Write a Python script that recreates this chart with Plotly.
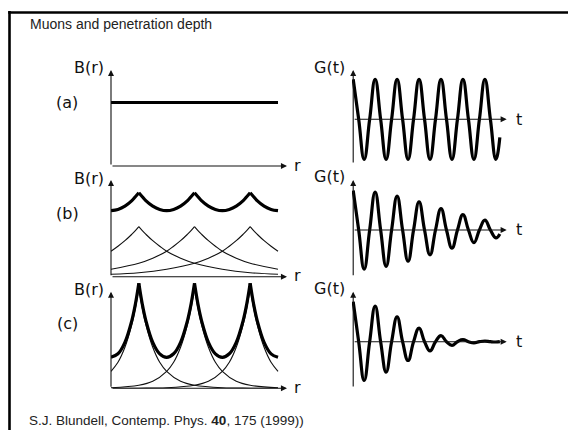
import plotly.graph_objects as go

W, H = 568, 430

# ---------------- data ----------------
# Vortex positions along r (units of vortex spacing) and extent of the drawn field profile
vortex_r = [0.5, 1.5, 2.5]
r_extent = [0.0, 3.0]
vortex_spacing = 1.0

# (a) uniform field level (units of single-vortex peak field in panel b)
field_a = 1.27

# single-vortex field profile vs distance from the core (fraction of spacing)
profile_d = [0, 0.0625, 0.125, 0.25, 0.375, 0.5, 0.75, 1.0, 1.5, 2.0, 2.5]
profile_b = [1.0, 0.92, 0.85, 0.72, 0.61, 0.51, 0.37, 0.27, 0.15, 0.08, 0.05]
profile_c = [1.0, 0.80, 0.64, 0.41, 0.26, 0.17, 0.07, 0.03, 0.005, 0.001, 0.0]

# total field between two neighbouring cores (fraction u of spacing from a core)
total_u = [0, 0.0625, 0.125, 0.25, 0.375, 0.5, 0.625, 0.75, 0.875, 0.9375, 1.0]
total_b = [1.68, 1.60, 1.52, 1.41, 1.345, 1.32, 1.345, 1.41, 1.52, 1.60, 1.68]
total_c = [1.05, 0.84, 0.68, 0.46, 0.345, 0.31, 0.345, 0.46, 0.68, 0.84, 1.05]

# G(t): amplitude of successive extrema (every half period, t in periods)
g_a_amp = [1.0, 1.0, 1.0, 1.0, 1.0, 1.0, 1.0, 1.0, 1.0, 1.0, 1.0, 1.0, 1.0, 1.0]
g_b_amp = [1.0, 0.99, 0.96, 0.92, 0.86, 0.79, 0.71, 0.63, 0.54, 0.46, 0.39, 0.32, 0.25, 0.20]
g_c_amp = [1.0, 0.97, 0.89, 0.76, 0.62, 0.47, 0.34, 0.23, 0.15, 0.09, 0.05, 0.03, 0.015, 0.008]
g_t_end = 6.68
g_a_end = -0.45
g_b_end = -0.10
g_c_end = 0.0

# ---------------- helpers ----------------
def px_x(p):
    return p / W

def px_y(p):
    return 1 - p / H


def thin_curves(profile):
    xs, ys = [], []
    lo, hi = r_extent
    for rc in vortex_r:
        left = [(rc - d, v) for d, v in zip(profile_d, profile) if rc - d >= lo - 1e-9]
        left.sort()
        right = [(rc + d, v) for d, v in zip(profile_d, profile) if rc + d <= hi + 1e-9]
        for seg in (left, right):
            xs += [p[0] for p in seg] + [None]
            ys += [p[1] for p in seg] + [None]
    return xs, ys


def total_curve(total):
    xs, ys = [], []
    lo, hi = r_extent
    starts = [vortex_r[0] - vortex_spacing] + list(vortex_r)
    for s in starts:
        seg = [(s + u * vortex_spacing, v) for u, v in zip(total_u, total)
               if lo - 1e-9 <= s + u * vortex_spacing <= hi + 1e-9]
        if len(seg) > 1:
            xs += [p[0] for p in seg] + [None]
            ys += [p[1] for p in seg] + [None]
    return xs, ys


def g_curve(amps, end_val):
    ts, gs = [], []
    for k, a in enumerate(amps):
        t = 0.5 * k
        if t > g_t_end:
            break
        ts.append(t)
        gs.append(a if k % 2 == 0 else -a)
        if t + 0.25 < g_t_end:
            ts.append(t + 0.25)
            gs.append(0.0)
    ts.append(g_t_end)
    gs.append(end_val)
    return ts, gs


# ---------------- layout geometry (pixels) ----------------
B_X0, B_X1 = 111, 290          # left domain for B(r) panels
R_PX = 55.67                   # px per vortex spacing
G_X0, G_X1 = 352, 512
T0_PX, T_PX = 353.2, 21.95     # t=0 position, px per period

# (domain top, domain bottom, zero line px, px per unit, axis top px)
B_rows = [(68, 166, 166, 50, 70), (178, 276.7, 276.7, 50, 180), (275, 388.3, 388.3, 100, 291.7)]
G_rows = [(68, 166, 119.3, 40, 70, 164), (178, 278, 230, 39.5, 180, 276.7), (288, 390, 341.7, 40, 291.7, 388)]

fig = go.Figure()
thick = dict(color="#000000", width=3.2, shape="spline", smoothing=1)
thin = dict(color="#111111", width=1.1, shape="spline", smoothing=1)

# Panel B(a)
fig.add_trace(go.Scatter(x=r_extent, y=[field_a, field_a], mode="lines",
                         line=dict(color="#000000", width=3.2), xaxis="x", yaxis="y",
                         cliponaxis=False))
# Panel B(b)
x, y = thin_curves(profile_b)
fig.add_trace(go.Scatter(x=x, y=y, mode="lines", line=thin, xaxis="x2", yaxis="y2", cliponaxis=False))
x, y = total_curve(total_b)
fig.add_trace(go.Scatter(x=x, y=y, mode="lines", line=thick, xaxis="x2", yaxis="y2", cliponaxis=False))
# Panel B(c)
x, y = thin_curves(profile_c)
fig.add_trace(go.Scatter(x=x, y=y, mode="lines", line=thin, xaxis="x3", yaxis="y3", cliponaxis=False))
x, y = total_curve(total_c)
fig.add_trace(go.Scatter(x=x, y=y, mode="lines", line=thick, xaxis="x3", yaxis="y3", cliponaxis=False))

# G panels
for i, (amps, endv) in enumerate([(g_a_amp, g_a_end), (g_b_amp, g_b_end), (g_c_amp, g_c_end)]):
    t, g = g_curve(amps, endv)
    fig.add_trace(go.Scatter(x=t, y=g, mode="lines",
                             line=dict(color="#000000", width=3.2, shape="spline", smoothing=1.3),
                             xaxis=f"x{4+i}", yaxis=f"y{4+i}", cliponaxis=False))

layout = dict(width=W, height=H, margin=dict(l=0, r=0, t=0, b=0),
              paper_bgcolor="white", plot_bgcolor="rgba(0,0,0,0)", showlegend=False,
              hovermode=False)

hidden = dict(visible=False, fixedrange=True)
annotations = []
lbl_font = dict(family="DejaVu Sans", size=16, color="#111111")

def axname(i):
    return "" if i == 1 else str(i)

for i, (dt, db, zero, ppu, atop) in enumerate(B_rows):
    n = i + 1
    layout[f"xaxis{axname(n)}"] = dict(hidden, domain=[px_x(B_X0), px_x(B_X1)],
                                       range=[0, (B_X1 - B_X0) / R_PX], anchor=f"y{axname(n)}")
    layout[f"yaxis{axname(n)}"] = dict(hidden, domain=[px_y(db), px_y(dt)],
                                       range=[-(db - zero) / ppu, (zero - dt) / ppu], anchor=f"x{axname(n)}")
    xr, yr = f"x{axname(n)}", f"y{axname(n)}"
    annotations.append(dict(x=0, y=(zero - atop) / ppu, ax=0, ay=0, xref=xr, yref=yr, axref=xr, ayref=yr,
                            text="", showarrow=True, arrowhead=2, arrowsize=1.1, arrowwidth=1.1, arrowcolor="#111111"))
    annotations.append(dict(x=(287 - B_X0) / R_PX, y=0, ax=0, ay=0, xref=xr, yref=yr, axref=xr, ayref=yr,
                            text="", showarrow=True, arrowhead=2, arrowsize=1.1, arrowwidth=1.1, arrowcolor="#111111"))
    annotations.append(dict(x=px_x(106), y=px_y(atop - 2), xref="paper", yref="paper", text="B(r)",
                            xanchor="right", yanchor="middle", showarrow=False, font=lbl_font))
    annotations.append(dict(x=px_x(292), y=px_y(zero - 1), xref="paper", yref="paper", text="r",
                            xanchor="left", yanchor="middle", showarrow=False, font=lbl_font))

panel_labels = ["(a)", "(b)", "(c)"]
for lab, py in zip(panel_labels, [102, 213, 323]):
    annotations.append(dict(x=px_x(67), y=px_y(py), xref="paper", yref="paper", text=lab,
                            xanchor="center", yanchor="middle", showarrow=False, font=lbl_font))

for i, (dt, db, zero, ppu, atop, abot) in enumerate(G_rows):
    n = i + 4
    xr, yr = f"x{n}", f"y{n}"
    layout[f"xaxis{n}"] = dict(hidden, domain=[px_x(G_X0), px_x(G_X1)],
                               range=[-(T0_PX - G_X0) / T_PX, (G_X1 - T0_PX) / T_PX], anchor=f"y{n}")
    layout[f"yaxis{n}"] = dict(hidden, domain=[px_y(db), px_y(dt)],
                               range=[-(db - zero) / ppu, (zero - dt) / ppu], anchor=f"x{n}")
    annotations.append(dict(x=0, y=(zero - atop) / ppu, ax=0, ay=-(abot - zero) / ppu, xref=xr, yref=yr,
                            axref=xr, ayref=yr, text="", showarrow=True, arrowhead=2, arrowsize=1.1,
                            arrowwidth=1.1, arrowcolor="#111111"))
    annotations.append(dict(x=(506.7 - T0_PX) / T_PX, y=0, ax=0, ay=0, xref=xr, yref=yr, axref=xr, ayref=yr,
                            text="", showarrow=True, arrowhead=2, arrowsize=1.1, arrowwidth=1.1, arrowcolor="#111111"))
    annotations.append(dict(x=px_x(347), y=px_y(atop - 3), xref="paper", yref="paper", text="G(t)",
                            xanchor="right", yanchor="middle", showarrow=False, font=lbl_font))
    annotations.append(dict(x=px_x(514), y=px_y(zero), xref="paper", yref="paper", text="t",
                            xanchor="left", yanchor="middle", showarrow=False, font=lbl_font))

annotations.append(dict(x=px_x(28), y=px_y(24), xref="paper", yref="paper", text="Muons and penetration depth",
                        xanchor="left", yanchor="middle", showarrow=False,
                        font=dict(family="Liberation Sans, Arial", size=14, color="#222222")))
annotations.append(dict(x=px_x(27), y=px_y(420.5), xref="paper", yref="paper",
                        text="S.J. Blundell, Contemp. Phys. <b>40</b>, 175 (1999))",
                        xanchor="left", yanchor="middle", showarrow=False,
                        font=dict(family="Liberation Sans, Arial", size=13.5, color="#222222")))

layout["annotations"] = annotations
layout["shapes"] = [
    dict(type="line", xref="paper", yref="paper", x0=px_x(9.5), x1=px_x(9.5), y0=px_y(11), y1=px_y(432),
         line=dict(color="#000000", width=2.6)),
    dict(type="line", xref="paper", yref="paper", x0=px_x(8.2), x1=px_x(570), y0=px_y(12.5), y1=px_y(12.5),
         line=dict(color="#000000", width=2.6)),
]

fig.update_layout(**layout)
fig.write_html("out.html", config={"displayModeBar": False, "staticPlot": True},
               post_script="document.body.style.margin='0';document.body.style.overflow='hidden';")
